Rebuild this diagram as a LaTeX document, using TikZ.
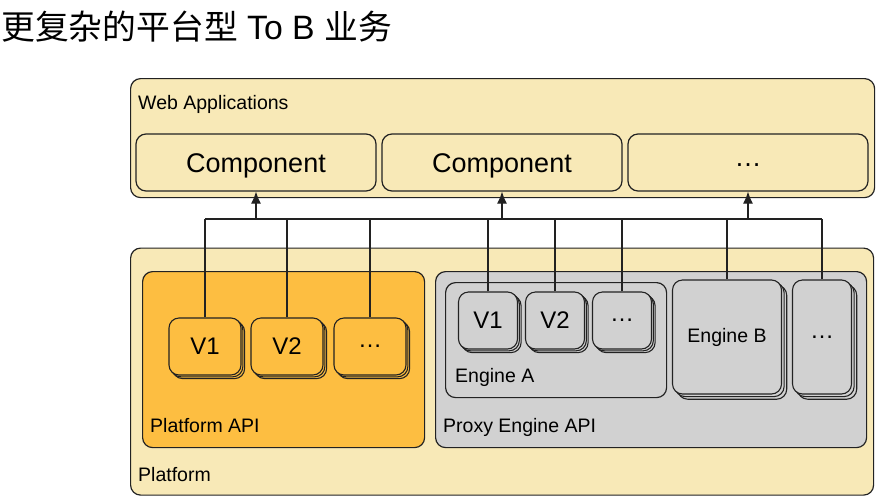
\documentclass[tikz,border=0pt]{standalone}
\usepackage{fontspec}
\setmainfont{Liberation Sans}
\newfontfamily\cjk{Noto Sans CJK SC}
\usetikzlibrary{arrows.meta}
\definecolor{beige}{HTML}{F8E9B7}
\definecolor{orng}{HTML}{FDBE41}
\definecolor{gry}{HTML}{D1D1D1}
\definecolor{edge}{HTML}{222222}
\tikzset{
  box/.style={draw=edge, line width=1.2pt, rounded corners=10pt, inner sep=0pt, anchor=north west},
  comp/.style={draw=edge, line width=1.2pt, rounded corners=10pt, inner sep=0pt, fill=beige,
    minimum width=240pt, minimum height=57pt},
  comptext/.style={inner sep=0pt, yshift=-3pt, font=\fontsize{27}{30}\selectfont},
  lbl/.style={anchor=base west, inner sep=0pt, font=\fontsize{19.5}{22}\selectfont},
  link/.style={draw=edge, line width=1.1pt},
  up/.style={link, -{Latex[length=12pt,width=10pt]}},
}
% stacked box: #1 name, #2 center x, #3 center y, #4 width, #5 height, #6 fill, #7 offset, #8 text, #9 font size
\newcommand\stk[9]{%
  \foreach \o in {2,1}{%
    \node[draw=edge, line width=1.1pt, rounded corners=10pt, fill=#6, inner sep=0pt,
      minimum width=#4pt, minimum height=#5pt] at (#2+\o*#7, #3+\o*#7) {};}
  \node[draw=edge, line width=1.1pt, rounded corners=10pt, fill=#6, inner sep=0pt,
    minimum width=#4pt, minimum height=#5pt, font=\fontsize{#9}{#9}\selectfont] (#1) at (#2,#3) {#8};}
\begin{document}
\begin{tikzpicture}[x=1pt,y=-1pt]
\useasboundingbox (0,0) rectangle (896,496);
% title
\node[anchor=base west, inner sep=0pt, font=\fontsize{33.8}{38}\selectfont] (title) at (1,39)
  {{\cjk 更复杂的平台型} To B {\cjk 业务}};
% web applications
\node[box, fill=beige, minimum width=744pt, minimum height=119pt] (web) at (130,78) {};
\node[lbl] (weblbl) at (138,109) {Web Applications};
\node[comp] (c1) at (256,162.5) {};
\node[comp] (c2) at (502,162.5) {};
\node[comp] (c3) at (748,162.5) {};
\node[comptext] (t1) at (c1.center) {Component};
\node[comptext] (t2) at (c2.center) {Component};
\node[comptext] (t3) at (c3.center) {…};
% platform
\node[box, fill=beige, minimum width=743pt, minimum height=247pt] (plat) at (130,247.5) {};
\node[lbl] (platlbl) at (138,481) {Platform};
\node[box, fill=orng, minimum width=282pt, minimum height=176pt] (papi) at (142,271) {};
\node[lbl] (papilbl) at (150,432) {Platform API};
\stk{pv1}{205}{346.5}{72}{57}{orng}{1.8}{V1}{24}
\stk{pv2}{287}{346.5}{72}{57}{orng}{1.8}{V2}{24}
\stk{pv3}{370}{346.5}{72}{57}{orng}{1.8}{…}{24}
% proxy engine
\node[box, fill=gry, minimum width=431pt, minimum height=176pt] (pe) at (435,271) {};
\node[lbl] (pelbl) at (443,432) {Proxy Engine API};
\node[box, fill=gry, minimum width=221pt, minimum height=115pt] (ea) at (445,282) {};
\node[lbl] (ealbl) at (455,382) {Engine A};
\stk{ev1}{488}{320.5}{59}{57}{gry}{1.8}{V1}{24}
\stk{ev2}{555}{320.5}{59}{57}{gry}{1.8}{V2}{24}
\stk{ev3}{622}{320.5}{59}{57}{gry}{1.8}{…}{24}
\stk{eb}{727}{337}{109}{114}{gry}{2.6}{Engine B}{19.5}
\stk{ed}{822}{337}{59}{114}{gry}{2.6}{…}{24}
% bus
\coordinate (bus) at (0,219);
\draw[link] (pv1.north |- bus) -- (ed.north |- bus);
\foreach \n in {pv1,pv2,pv3,ev1,ev2,ev3,eb,ed}{\draw[link] (\n.north) -- (\n.north |- bus);}
\foreach \n in {c1,c2,c3}{\draw[up] (\n.south |- bus) -- (\n.south);}
\end{tikzpicture}
\end{document}
